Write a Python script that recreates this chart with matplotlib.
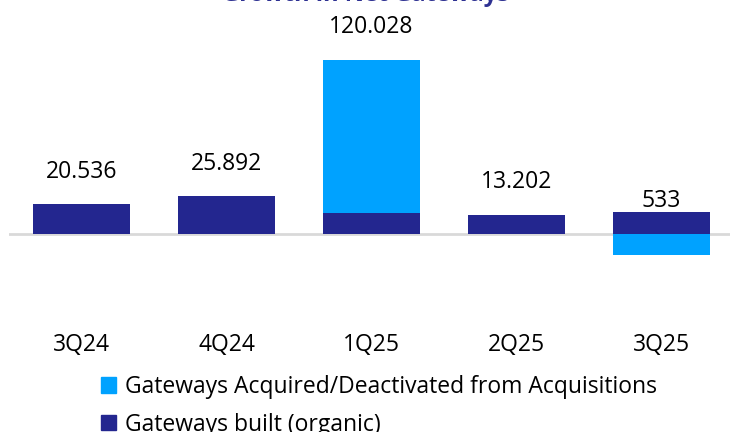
import numpy as np
import matplotlib.pyplot as plt
from matplotlib.patches import Patch

# quarterly gateways, split organic vs acquisitions
quarters = ["3Q24", "4Q24", "1Q25", "2Q25", "3Q25"]
organic = [20536, 25892, 14500, 13202, 15200]
acquired = [0, 0, 105528, 0, -14667]
totals = ["20.536", "25.892", "120.028", "13.202", "533"]

dark = "#23268F"
light = "#00A2FF"

plt.rcParams['font.family'] = ['Open Sans', 'DejaVu Sans']

fig = plt.figure(figsize=(7.3, 4.32), dpi=100)
ax = fig.add_axes([9 / 730, 107 / 432, 725 / 730, 325 / 432])

x = np.arange(len(quarters))
org = np.array(organic)
acq = np.array(acquired)
ax.bar(x, org, width=0.67, color=dark)
# positive acquisitions stack on top, negative go below zero
acq_bottom = np.where(acq > 0, org, 0)
ax.bar(x, acq, width=0.67, bottom=acq_bottom, color=light)

ax.axhline(0, color="#d9d9d9", lw=2, zorder=0)

# labels sit a fixed distance above the net total
net = org + acq
for xi, tot, lab in zip(x, net, totals):
    ax.text(xi, tot + 22500, lab, ha="center", va="center", fontsize=16.5, color="#000000")

ax.set_xlim(-0.5, 4.5)
ax.set_ylim(-62800, 161500)
ax.set_xticks(x)
ax.set_xticklabels(quarters, fontsize=16.5)
ax.tick_params(axis="x", length=0, pad=6)
ax.set_yticks([])
for s in ax.spines.values():
    s.set_visible(False)

# title sits mostly above the canvas, as in the source
fig.text(0.5, 1 - 1 / 432, "Growth in Net Gateways", ha="center", va="baseline",
         fontsize=17, fontweight="bold", color="#2E3192")

handles = [Patch(color=light, label="Gateways Acquired/Deactivated from Acquisitions"),
           Patch(color=dark, label="Gateways built (organic)")]
fig.legend(handles=handles, loc="upper left", bbox_to_anchor=(101 / 730, 1 - 375 / 432),
           frameon=False, fontsize=16.5, handlelength=0.65, handleheight=0.65,
           handletextpad=0.4, labelspacing=0.6, borderaxespad=0, borderpad=0)

fig.savefig("out.png", dpi=100)
